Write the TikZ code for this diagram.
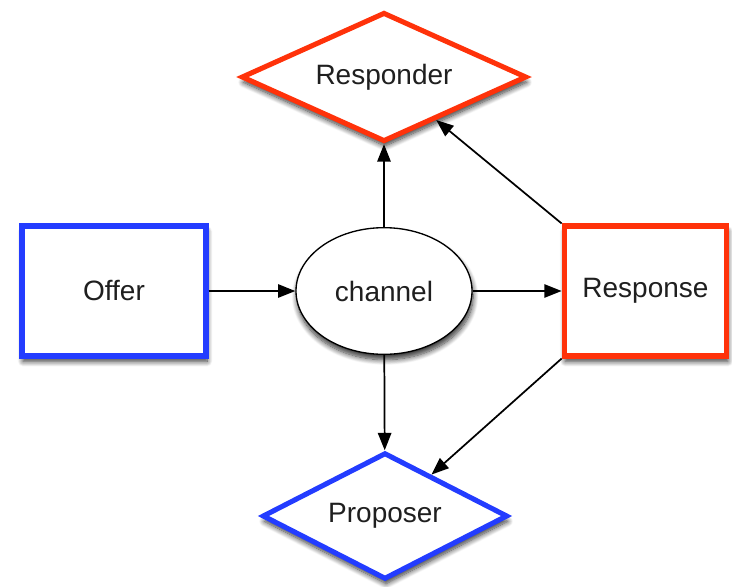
\documentclass[tikz,border=0pt]{standalone}
\usepackage{fontspec}
\setmainfont{Liberation Sans}
\usetikzlibrary{shapes.geometric,arrows.meta,shadows.blur}
\definecolor{rolered}{RGB}{255,50,10}
\definecolor{roleblue}{RGB}{35,60,255}
\begin{document}
\begin{tikzpicture}[x=0.75pt,y=-0.75pt,
  every node/.style={font=\fontsize{21}{24}\selectfont, text=black!88},
  soft/.style={blur shadow={shadow xshift=0.8pt,shadow yshift=-4pt,shadow blur radius=4pt,shadow blur steps=10,shadow opacity=80}},
  databox/.style={draw=#1,line width=3.8pt,fill=white,rectangle,inner sep=0pt,
    minimum width=138pt,minimum height=97.5pt,soft},
  rolebox/.style={draw=#1,line width=3.8pt,fill=white,diamond,inner sep=0pt,soft},
  medium/.style={draw=black,line width=1pt,fill=white,ellipse,inner sep=0pt,
    minimum width=132pt,minimum height=95pt,soft},
  flow/.style={line width=1.3pt,-{Triangle[length=13pt,width=10pt]}}]
  \useasboundingbox (0,0) rectangle (732,586);

  \node[rolebox=rolered,aspect=2.3,minimum width=214pt,minimum height=97pt] (responder) at (384,77) {Responder};
  \node[rolebox=roleblue,aspect=2,minimum width=184pt,minimum height=95pt] (proposer) at (385,516) {Proposer};
  \node[databox=roleblue] (offer) at (114,291) {Offer};
  \node[databox=rolered,minimum width=122pt] (response) at (645.5,291) {Response};
  \node[medium] (channel) at (384,291) {channel};

  \draw[flow] (offer) -- (channel);
  \draw[flow] (channel) -- (response);
  \draw[flow] (channel) -- (responder);
  \draw[flow] (channel) -- (proposer);
  \draw[flow] (response.north west) -- (responder);
  \draw[flow] (response.south west) -- (proposer);
\end{tikzpicture}
\end{document}
